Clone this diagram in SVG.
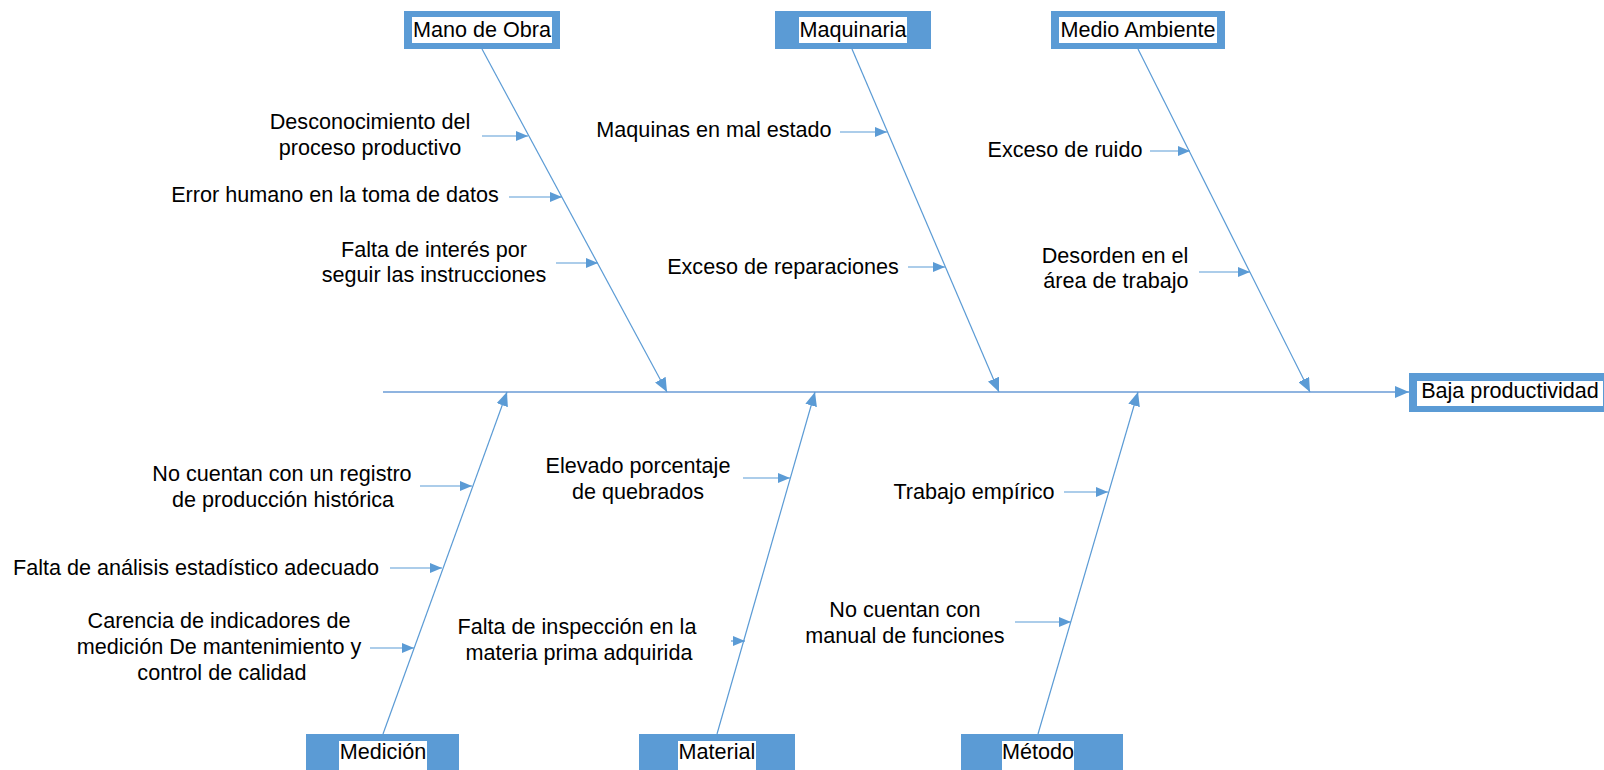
<svg xmlns="http://www.w3.org/2000/svg" width="1604" height="770" viewBox="0 0 1604 770">
<style>
text{font-family:"Liberation Sans",Arial,sans-serif;font-size:21.6px;fill:#000;text-anchor:middle}
.box{fill:#5B9BD5}
.hl{fill:#fff}
.bone{stroke:#5B9BD5;stroke-width:1.2;fill:none}
.spine{stroke:#8FB4E0;stroke-width:2.2;fill:none}
</style>
<defs>
<marker id="sm" viewBox="0 0 12 10" refX="12" refY="5" markerWidth="12" markerHeight="10" orient="auto" markerUnits="userSpaceOnUse"><path d="M0,0 L12,5 L0,10 z" fill="#5B9BD5"/></marker>
<marker id="lg" viewBox="0 0 14 12" refX="14" refY="6" markerWidth="14" markerHeight="12" orient="auto" markerUnits="userSpaceOnUse"><path d="M0,0 L14,6 L0,12 z" fill="#5B9BD5"/></marker>
</defs>
<rect width="1604" height="770" fill="#fff"/>
<g id="connectors">
<line class="spine" x1="383" y1="392" x2="1409" y2="392" marker-end="url(#lg)"/>
<line class="bone" x1="482" y1="49" x2="667" y2="392" marker-end="url(#lg)"/>
<line class="bone" x1="852" y1="49" x2="999" y2="392" marker-end="url(#lg)"/>
<line class="bone" x1="1138" y1="49" x2="1310" y2="392" marker-end="url(#lg)"/>
<line class="bone" x1="383" y1="734" x2="507" y2="392" marker-end="url(#lg)"/>
<line class="bone" x1="717" y1="734" x2="815" y2="392" marker-end="url(#lg)"/>
<line class="bone" x1="1038" y1="734" x2="1138" y2="392" marker-end="url(#lg)"/>
<line class="bone" x1="482" y1="136" x2="528" y2="136" marker-end="url(#sm)"/>
<line class="bone" x1="509" y1="197" x2="562" y2="197" marker-end="url(#sm)"/>
<line class="bone" x1="556" y1="263" x2="598" y2="263" marker-end="url(#sm)"/>
<line class="bone" x1="840" y1="132" x2="887" y2="132" marker-end="url(#sm)"/>
<line class="bone" x1="908" y1="267" x2="945" y2="267" marker-end="url(#sm)"/>
<line class="bone" x1="1150" y1="151" x2="1190" y2="151" marker-end="url(#sm)"/>
<line class="bone" x1="1199" y1="272" x2="1250" y2="272" marker-end="url(#sm)"/>
<line class="bone" x1="420" y1="486" x2="472" y2="486" marker-end="url(#sm)"/>
<line class="bone" x1="390" y1="568" x2="442" y2="568" marker-end="url(#sm)"/>
<line class="bone" x1="370" y1="648" x2="414" y2="648" marker-end="url(#sm)"/>
<line class="bone" x1="743" y1="478" x2="790" y2="478" marker-end="url(#sm)"/>
<line class="bone" x1="731" y1="641" x2="745" y2="641" marker-end="url(#sm)"/>
<line class="bone" x1="1064" y1="492" x2="1108" y2="492" marker-end="url(#sm)"/>
<line class="bone" x1="1015" y1="622" x2="1071" y2="622" marker-end="url(#sm)"/>
</g>
<g id="mano-de-obra"><rect class="box" x="404" y="11" width="156" height="38"/><rect class="hl" x="412" y="17" width="140" height="26"/><text x="482" y="37">Mano de Obra</text></g>
<g id="maquinaria"><rect class="box" x="775" y="11" width="156" height="38"/><rect class="hl" x="799" y="17" width="108" height="26"/><text x="853" y="37">Maquinaria</text></g>
<g id="medio-ambiente"><rect class="box" x="1051" y="11" width="174" height="38"/><rect class="hl" x="1059" y="17" width="158" height="26"/><text x="1138" y="37">Medio Ambiente</text></g>
<g id="baja-productividad"><rect class="box" x="1409" y="373" width="200" height="39"/><rect class="hl" x="1417" y="381" width="186" height="25"/><text x="1510" y="398">Baja productividad</text></g>
<g id="medicion"><rect class="box" x="306" y="734" width="153" height="40"/><rect class="hl" x="339" y="741" width="88" height="33"/><text x="383" y="759">Medición</text></g>
<g id="material"><rect class="box" x="639" y="734" width="156" height="40"/><rect class="hl" x="678" y="741" width="78" height="33"/><text x="717" y="759">Material</text></g>
<g id="metodo"><rect class="box" x="961" y="734" width="162" height="40"/><rect class="hl" x="1002" y="741" width="72" height="33"/><text x="1038" y="759">Método</text></g>
<g id="c1"><text x="370" y="129">Desconocimiento del</text><text x="370" y="155">proceso productivo</text></g>
<g id="c2"><text x="335" y="202">Error humano en la toma de datos</text></g>
<g id="c3"><text x="434" y="257">Falta de interés por</text><text x="434" y="282">seguir las instrucciones</text></g>
<g id="c4"><text x="714" y="137">Maquinas en mal estado</text></g>
<g id="c5"><text x="783" y="274">Exceso de reparaciones</text></g>
<g id="c6"><text x="1065" y="157">Exceso de ruido</text></g>
<g id="c7"><text x="1115" y="263">Desorden en el</text><text x="1116" y="288">área de trabajo</text></g>
<g id="c8"><text x="282" y="481">No cuentan con un registro</text><text x="283" y="507">de producción histórica</text></g>
<g id="c9"><text x="196" y="575">Falta de análisis estadístico adecuado</text></g>
<g id="c10"><text x="219" y="628">Carencia de indicadores de</text><text x="219" y="654">medición De mantenimiento y</text><text x="222" y="680">control de calidad</text></g>
<g id="c11"><text x="638" y="473">Elevado porcentaje</text><text x="638" y="499">de quebrados</text></g>
<g id="c12"><text x="577" y="634">Falta de inspección en la</text><text x="579" y="660">materia prima adquirida</text></g>
<g id="c13"><text x="974" y="499">Trabajo empírico</text></g>
<g id="c14"><text x="905" y="617">No cuentan con</text><text x="905" y="643">manual de funciones</text></g>
</svg>
